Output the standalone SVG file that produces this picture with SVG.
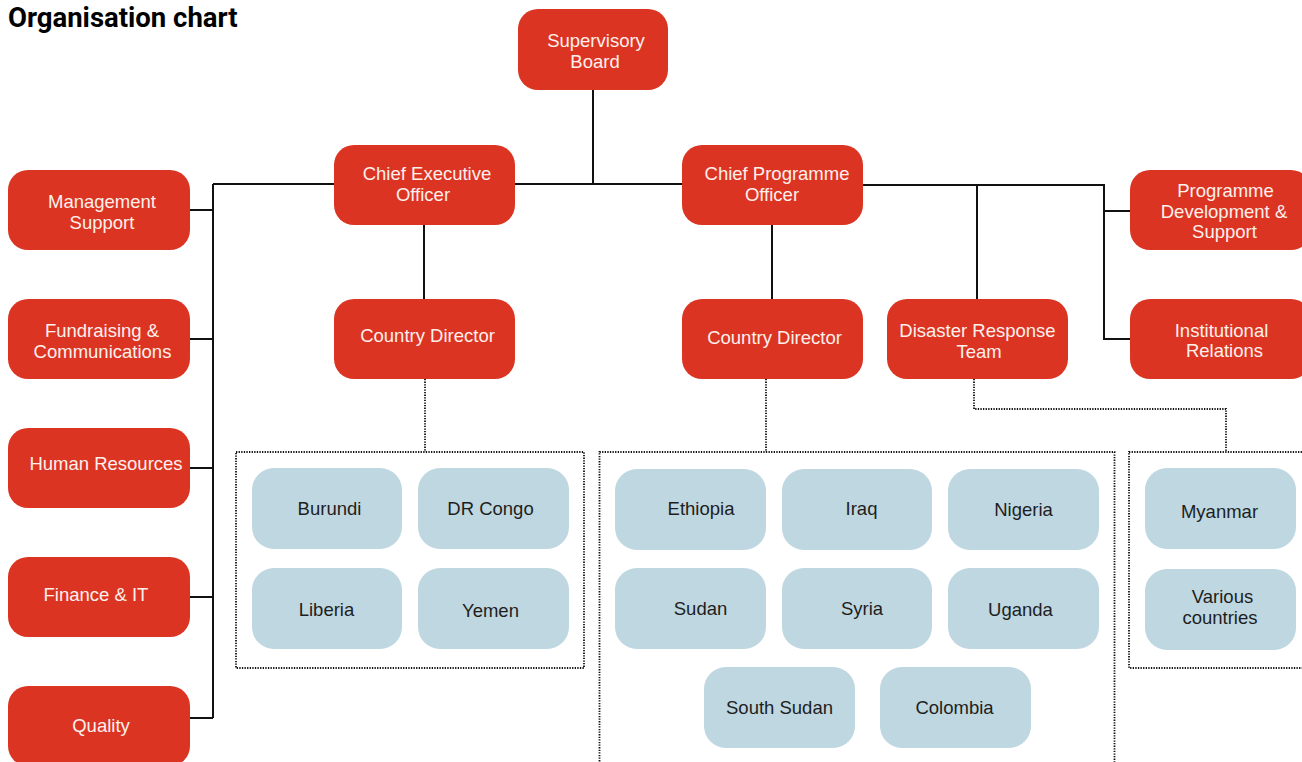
<svg xmlns="http://www.w3.org/2000/svg" width="1302" height="762" viewBox="0 0 1302 762">
<style>
.r{fill:#DC3422}
.b{fill:#BED7E0}
.rt{font-family:"Liberation Sans",Arial,sans-serif;font-size:18.5px;fill:#FDF0EC;text-anchor:middle}
.bt{font-family:"Liberation Sans",Arial,sans-serif;font-size:18.5px;fill:#1E1E1E;text-anchor:middle}
.ln{stroke:#111;stroke-width:2;fill:none}
.dt{stroke:#111;stroke-width:1.8;stroke-dasharray:1.3 1.3;fill:none}
</style>
<rect width="1302" height="762" fill="#fff"/>
<text x="8" y="27" font-family="Roboto,'Liberation Sans',sans-serif" font-weight="700" font-size="27.5" fill="#000">Organisation chart</text>

<g id="connectors">
<path class="ln" d="M593 90V184M213 184H682M213 184V718M190 210H213M190 339H213M190 468H213M190 597H213M190 718H213"/>
<path class="ln" d="M424 225V299M772 225V299M863 185H1104V339H1130M977 185V299M1104 211H1130"/>
<path class="dt" d="M425 379V452M766 379V452M974 379V409H1226V452"/>
<rect class="dt" x="236" y="452" width="348" height="216"/>
<rect class="dt" x="599.5" y="452" width="515" height="330"/>
<rect class="dt" x="1129" y="452" width="200" height="216"/>
</g>

<g id="supervisory-board"><rect class="r" x="518" y="9" width="150" height="81" rx="20"/><text class="rt" x="596" y="47">Supervisory</text><text class="rt" x="595" y="68">Board</text></g>
<g id="ceo"><rect class="r" x="334" y="145" width="181" height="80" rx="20"/><text class="rt" x="427" y="180">Chief Executive</text><text class="rt" x="423" y="201">Officer</text></g>
<g id="cpo"><rect class="r" x="682" y="145" width="181" height="80" rx="20"/><text class="rt" x="777" y="180">Chief Programme</text><text class="rt" x="772" y="201">Officer</text></g>
<g id="country-director-1"><rect class="r" x="334" y="299" width="181" height="80" rx="20"/><text class="rt" x="427.5" y="342">Country Director</text></g>
<g id="country-director-2"><rect class="r" x="682" y="299" width="181" height="80" rx="20"/><text class="rt" x="774.5" y="344">Country Director</text></g>
<g id="disaster-response-team"><rect class="r" x="887" y="299" width="181" height="80" rx="20"/><text class="rt" x="977.5" y="337">Disaster Response</text><text class="rt" x="979" y="358">Team</text></g>

<g id="management-support"><rect class="r" x="8" y="170" width="182" height="80" rx="20"/><text class="rt" x="102" y="207.5">Management</text><text class="rt" x="102" y="228.5">Support</text></g>
<g id="fundraising"><rect class="r" x="8" y="299" width="182" height="80" rx="20"/><text class="rt" x="102" y="336.5">Fundraising &amp;</text><text class="rt" x="102.5" y="357.5">Communications</text></g>
<g id="human-resources"><rect class="r" x="8" y="428" width="182" height="80" rx="20"/><text class="rt" x="106" y="470">Human Resources</text></g>
<g id="finance-it"><rect class="r" x="8" y="557" width="182" height="80" rx="20"/><text class="rt" x="96" y="601">Finance &amp; IT</text></g>
<g id="quality"><rect class="r" x="8" y="686" width="182" height="80" rx="20"/><text class="rt" x="101" y="732">Quality</text></g>

<g id="programme-development"><rect class="r" x="1130" y="170" width="181" height="80" rx="20"/><text class="rt" x="1225.5" y="197">Programme</text><text class="rt" x="1224" y="217.5">Development &amp;</text><text class="rt" x="1224.5" y="238">Support</text></g>
<g id="institutional-relations"><rect class="r" x="1130" y="299" width="181" height="80" rx="20"/><text class="rt" x="1221.5" y="337">Institutional</text><text class="rt" x="1224.5" y="357">Relations</text></g>

<g id="burundi"><rect class="b" x="252" y="468" width="150" height="81" rx="22"/><text class="bt" x="329.5" y="515">Burundi</text></g>
<g id="dr-congo"><rect class="b" x="418" y="468" width="151" height="81" rx="22"/><text class="bt" x="490.5" y="515">DR Congo</text></g>
<g id="liberia"><rect class="b" x="252" y="568" width="150" height="81" rx="22"/><text class="bt" x="326.5" y="616">Liberia</text></g>
<g id="yemen"><rect class="b" x="418" y="568" width="151" height="81" rx="22"/><text class="bt" x="490.5" y="617">Yemen</text></g>

<g id="ethiopia"><rect class="b" x="615" y="469" width="151" height="81" rx="22"/><text class="bt" x="701" y="515">Ethiopia</text></g>
<g id="iraq"><rect class="b" x="782" y="469" width="150" height="81" rx="22"/><text class="bt" x="861.5" y="515">Iraq</text></g>
<g id="nigeria"><rect class="b" x="948" y="469" width="151" height="81" rx="22"/><text class="bt" x="1023.5" y="516">Nigeria</text></g>
<g id="sudan"><rect class="b" x="615" y="568" width="151" height="81" rx="22"/><text class="bt" x="700.5" y="615">Sudan</text></g>
<g id="syria"><rect class="b" x="782" y="568" width="150" height="81" rx="22"/><text class="bt" x="862" y="615">Syria</text></g>
<g id="uganda"><rect class="b" x="948" y="568" width="151" height="81" rx="22"/><text class="bt" x="1020.5" y="616">Uganda</text></g>
<g id="south-sudan"><rect class="b" x="704" y="667" width="151" height="81" rx="22"/><text class="bt" x="779.5" y="714">South Sudan</text></g>
<g id="colombia"><rect class="b" x="880" y="667" width="151" height="81" rx="22"/><text class="bt" x="954.5" y="714">Colombia</text></g>

<g id="myanmar"><rect class="b" x="1145" y="468" width="151" height="81" rx="22"/><text class="bt" x="1219.5" y="518">Myanmar</text></g>
<g id="various-countries"><rect class="b" x="1145" y="569" width="151" height="81" rx="22"/><text class="bt" x="1222.5" y="603">Various</text><text class="bt" x="1220" y="624">countries</text></g>
</svg>
